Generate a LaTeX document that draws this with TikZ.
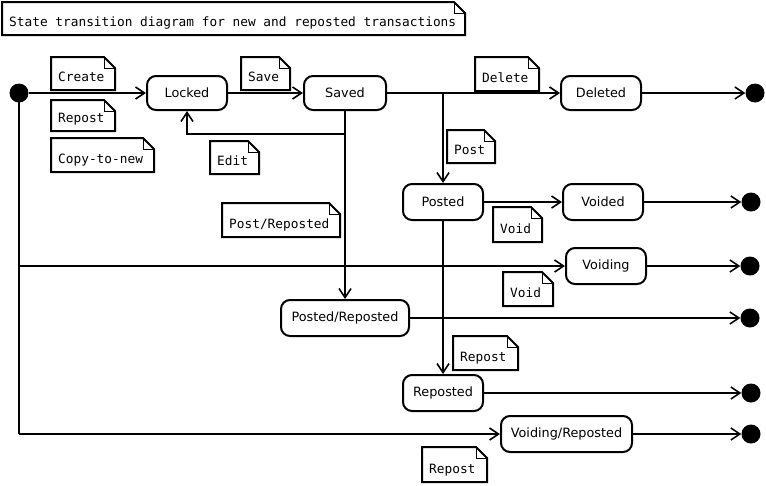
\documentclass[tikz,border=0pt]{standalone}
\usepackage{fontspec}
\setmainfont{DejaVu Sans}
\setmonofont{DejaVu Sans Mono}
\usetikzlibrary{arrows.meta,calc}
\tikzset{
  stbox/.style={draw, line width=2pt, rounded corners=9pt, inner sep=0pt,
    font=\fontsize{12.8}{14}\selectfont},
  dot/.style={circle, fill=black, draw=none, minimum size=19pt, inner sep=0pt},
  conn/.style={line width=2pt, -{Straight Barb[length=9pt,width=12pt,line width=1.6pt]}},
  plain/.style={line width=2pt},
  noteline/.style={line width=2pt},
  foldline/.style={line width=1pt},
  notetext/.style={font=\fontsize{12.8}{14}\selectfont\ttfamily, inner sep=0pt, anchor=base west},
}
% name, x1, y1, x2, y2, text
\newcommand\mynote[6]{%
  \draw[noteline] (#2,#3) -- ({#4-11},#3) -- (#4,{#3+11}) -- (#4,#5) -- (#2,#5) -- cycle;
  \draw[foldline] ({#4-11},#3) -- ({#4-11},{#3+11}) -- (#4,{#3+11});
  \node[notetext] (#1) at ({#2+7},{#5-9}) {#6};
}
% name, x1, y1, x2, y2, text
\newcommand\mystate[6]{%
  \node[stbox, minimum width={(#4-#2)*1pt}, minimum height={(#5-#3)*1pt}] (#1) at ({(#2+#4)/2},{(#3+#5)/2}) {#6};
}
\begin{document}
\begin{tikzpicture}[x=1pt,y=-1pt]
\useasboundingbox (0,0) rectangle (766,485);

% title
\mynote{title}{2}{2}{465}{35}{State transition diagram for new and reposted transactions}

% states
\mystate{locked}{147}{76}{227}{110}{Locked}
\mystate{saved}{304}{76}{386}{110}{Saved}
\mystate{deleted}{561}{76}{641}{110}{Deleted}
\mystate{posted}{403}{184}{483}{220}{Posted}
\mystate{voided}{563}{184}{643}{220}{Voided}
\mystate{voiding}{566}{248}{646}{284}{Voiding}
\mystate{postrep}{281}{300}{409}{336}{Posted/Reposted}
\mystate{reposted}{403}{375}{483}{411}{Reposted}
\mystate{voidrep}{501}{416}{632}{452}{Voiding/Reposted}

% start and end dots
\node[dot] (start) at (19,93) {};
\node[dot] (e1) at (755,93) {};
\node[dot] (e2) at (751,202) {};
\node[dot] (e3) at (750,266) {};
\node[dot] (e4) at (750,318) {};
\node[dot] (e5) at (751,393) {};
\node[dot] (e6) at (751,434) {};

\coordinate (c1) at (19,266);
\coordinate (c2) at (19,434);
\coordinate (cpost) at (443,93);
\coordinate (cedit) at (345,134);

% connectors
\draw[conn] (start) -- (locked);
\draw[plain] (start.center) -- (c2);
\draw[conn] (c2) -- (voidrep.west);
\draw[conn] (c1) -- (voiding.west);
\draw[conn] (locked) -- (saved);
\draw[conn] (saved) -- (deleted);
\draw[conn] (cpost) -- (posted.north);
\draw[conn] (deleted) -- (e1);
\draw[conn] (posted) -- (voided);
\draw[conn] (voided) -- (e2);
\draw[conn] (voiding) -- (e3);
\draw[conn] (postrep) -- (e4);
\draw[conn] (reposted) -- (e5);
\draw[conn] (voidrep) -- (e6);
\draw[conn] (saved.south) -- (postrep.north);
\draw[conn] (cedit) -| (locked.south);
\draw[conn] (posted.south) -- (reposted.north);

% notes
\mynote{ncreate}{51}{57}{115}{90}{Create}
\mynote{nrepost1}{51}{100}{115}{131}{Repost}
\mynote{ncopy}{51}{138}{154}{172}{Copy-to-new}
\mynote{nsave}{241}{57}{290}{90}{Save}
\mynote{nedit}{210}{141}{259}{174}{Edit}
\mynote{ndelete}{475}{57}{539}{91}{Delete}
\mynote{npost}{447}{130}{495}{163}{Post}
\mynote{npostrep}{222}{203}{340}{237}{Post/Reposted}
\mynote{nvoid1}{493}{207}{542}{242}{Void}
\mynote{nvoid2}{503}{272}{553}{306}{Void}
\mynote{nrepost2}{453}{336}{518}{370}{Repost}
\mynote{nrepost3}{422}{447}{487}{482}{Repost}
\end{tikzpicture}
\end{document}
